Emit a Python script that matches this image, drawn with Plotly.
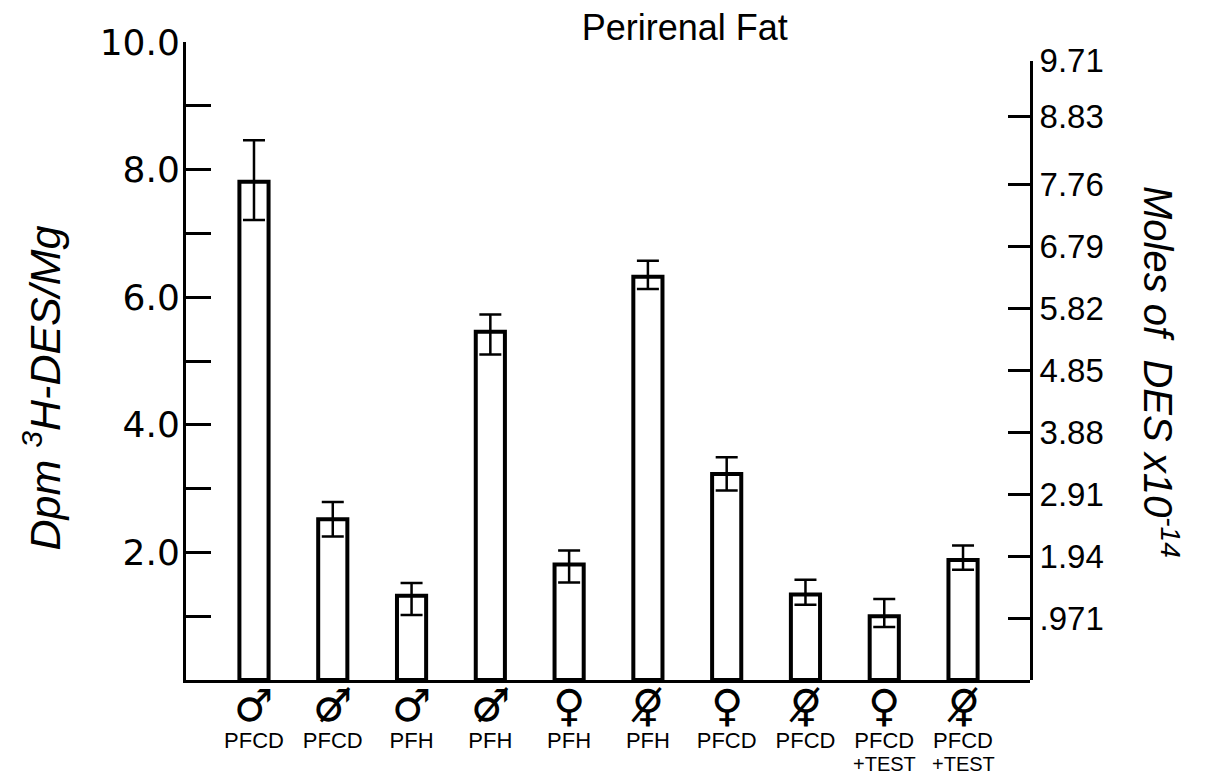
import plotly.graph_objects as go

# ---- data ----
categories = ["M-PFCD", "MX-PFCD", "M-PFH", "MX-PFH", "F-PFH",
              "FX-PFH", "F-PFCD", "FX-PFCD", "F-PFCD-T", "FX-PFCD-T"]
sex_symbols = ["\u2642", "\u2642\u0338", "\u2642", "\u2642\u0338", "\u2640",
               "\u2640\u0338", "\u2640", "\u2640\u0338", "\u2640", "\u2640\u0338"]
diet_labels = ["PFCD", "PFCD", "PFH", "PFH", "PFH",
               "PFH", "PFCD", "PFCD", "PFCD", "PFCD"]
treatment_labels = ["", "", "", "", "", "", "", "", "+TEST", "+TEST"]
dpm_values = [7.81, 2.52, 1.32, 5.46, 1.81, 6.32, 3.23, 1.34, 1.00, 1.88]
err_plus = [0.65, 0.27, 0.20, 0.27, 0.22, 0.25, 0.26, 0.23, 0.27, 0.23]
err_minus = [0.60, 0.27, 0.30, 0.36, 0.28, 0.19, 0.26, 0.16, 0.17, 0.15]

left_tickvals = [1, 2, 3, 4, 5, 6, 7, 8, 9, 10]
left_ticktext = ["", "2.0", "", "4.0", "", "6.0", "", "8.0", "", "10.0"]
right_tickvals = [0.971, 1.94, 2.91, 3.88, 4.85, 5.82, 6.79, 7.76, 8.83, 9.71]
right_ticktext = [".971", "1.94", "2.91", "3.88", "4.85", "5.82", "6.79", "7.76", "8.83", "9.71"]

FONT = "Liberation Sans, Arial, sans-serif"
TICKFONT = "DejaVu Sans, sans-serif"

fig = go.Figure()
fig.add_trace(go.Bar(
    x=categories, y=dpm_values, width=0.37,
    marker=dict(color="white", line=dict(color="black", width=4)),
    error_y=dict(type="data", symmetric=False, array=err_plus, arrayminus=err_minus,
                 color="black", thickness=2.5, width=11),
    showlegend=False, hoverinfo="skip",
))
# dummy trace so the right-hand axis is drawn
fig.add_trace(go.Scatter(x=[categories[0]], y=[None], yaxis="y2",
                         mode="markers", showlegend=False, hoverinfo="skip"))

for cat, sym, sub in zip(categories, sex_symbols, treatment_labels):
    fig.add_annotation(x=cat, y=-0.040, xref="x", yref="paper", text=sym,
                       showarrow=False, font=dict(size=44, color="black", family="DejaVu Sans"),
                       xanchor="center", yanchor="middle")
    if sub:
        fig.add_annotation(x=cat, y=-0.131, xref="x", yref="paper", text=sub,
                           showarrow=False, font=dict(size=20, color="black", family=FONT),
                           xanchor="center", yanchor="middle")

fig.add_annotation(x=-0.171, y=0.458, xref="paper", yref="paper",
                   text="<i>Dpm <sup>3</sup>H-DES/Mg</i>", textangle=-90, showarrow=False,
                   xanchor="center", yanchor="middle",
                   font=dict(size=43, color="black", family=FONT))
fig.add_annotation(x=1.155, y=0.483, xref="paper", yref="paper",
                   text="<i>Moles of  DES x10<sup>-14</sup></i>", textangle=90, showarrow=False,
                   xanchor="center", yanchor="middle",
                   font=dict(size=40, color="black", family=FONT))

fig.update_layout(
    width=1198, height=767,
    margin=dict(l=178, r=176, t=34, b=95),
    paper_bgcolor="white", plot_bgcolor="rgba(0,0,0,0)",
    font=dict(family=FONT, color="black"),
    title=dict(text="Perirenal Fat", x=0.591, xref="paper", y=0.975, yref="container",
               xanchor="center", yanchor="middle", font=dict(size=36, color="black")),
    xaxis=dict(type="category", range=[-0.863, 9.85], showline=True, linecolor="black",
               linewidth=3, ticks="", tickmode="array", tickvals=categories,
               ticktext=diet_labels, tickfont=dict(size=22), ticklabelstandoff=39,
               showgrid=False, zeroline=False, automargin=False),
    yaxis=dict(range=[0, 10], showline=True, linecolor="black", linewidth=3,
               ticks="inside", ticklen=25, tickwidth=3, tickcolor="black",
               tickmode="array", tickvals=left_tickvals, ticktext=left_ticktext,
               tickfont=dict(size=36, family=TICKFONT), ticklabelstandoff=-4,
               showgrid=False, zeroline=False, automargin=False),
    yaxis2=dict(range=[0, 9.71], domain=[0, 0.971], anchor="x", side="right",
                showline=True, linecolor="black", linewidth=3,
                ticks="inside", ticklen=22, tickwidth=3, tickcolor="black",
                tickmode="array", tickvals=right_tickvals, ticktext=right_ticktext,
                tickfont=dict(size=33), showgrid=False, zeroline=False, automargin=False),
)

fig.write_html("out.html")
